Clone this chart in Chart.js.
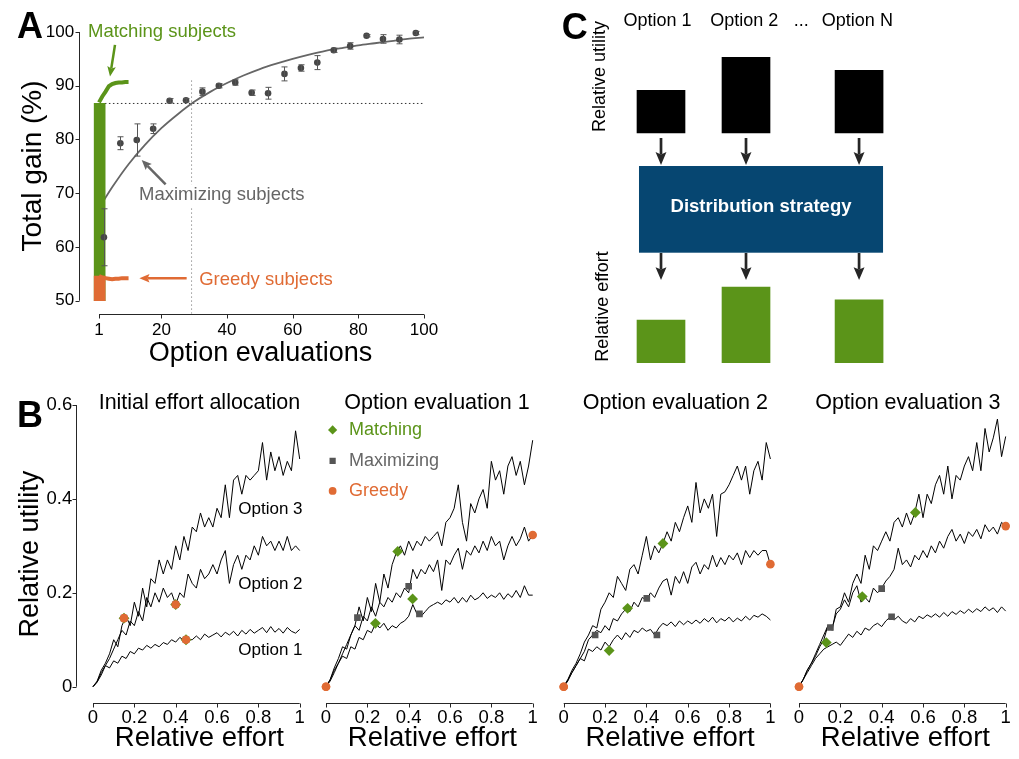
<!DOCTYPE html>
<html>
<head>
<meta charset="utf-8">
<title>Effort allocation strategies</title>
<script src="https://cdn.jsdelivr.net/npm/chart.js@4.4.1/dist/chart.umd.min.js"></script>
<style>
  html, body { margin: 0; padding: 0; background: #fff; overflow: hidden; }
  body { position: relative; width: 1019px; height: 759px; }
  .panel { position: absolute; }
  .panel canvas { display: block; }
</style>
</head>
<body>
<div class="panel" style="left:0;top:0;width:460px;height:375px"><canvas id="gainChart"></canvas></div>
<div class="panel" style="left:560px;top:0;width:459px;height:375px"><canvas id="schemeChart"></canvas></div>
<div class="panel" style="left:0;top:385px;width:330px;height:374px"><canvas id="initChart"></canvas></div>
<div class="panel" style="left:300px;top:385px;width:260px;height:374px"><canvas id="eval1Chart"></canvas></div>
<div class="panel" style="left:540px;top:385px;width:260px;height:374px"><canvas id="eval2Chart"></canvas></div>
<div class="panel" style="left:775px;top:385px;width:260px;height:374px"><canvas id="eval3Chart"></canvas></div>
<script>
// ---------- Panel A: total gain vs option evaluations ----------
const evalTicks = [1, 20, 40, 60, 80, 100];
const gainTicks = [50, 60, 70, 80, 90, 100];
const evalBins = [2.5, 7.5, 12.5, 17.5, 22.5, 27.5, 32.5, 37.5, 42.5, 47.5,
                  52.5, 57.5, 62.5, 67.5, 72.5, 77.5, 82.5, 87.5, 92.5, 97.5];
const maxGain = [61.8, 79.3, 79.9, 82.0, 87.2, 87.3, 88.9, 90.0, 90.6, 88.7,
                 88.6, 92.2, 93.3, 94.3, 96.6, 97.4, 99.3, 98.7, 98.6, 99.8];
const maxGainErr = [5.3, 1.2, 3.0, 0.9, 0.4, 0.3, 0.7, 0.4, 0.5, 0.5,
                    1.1, 1.3, 0.6, 1.3, 0.4, 0.6, 0.2, 0.8, 0.8, 0.3];
const fitEvals = [1.3, 5, 10, 15, 20, 25, 30, 35, 40, 45, 50, 55, 60, 65, 70, 75, 80, 85, 90, 95, 100];
const fitGain = [67.5, 71.1, 75.4, 79.0, 82.1, 84.7, 87.0, 88.9, 90.5, 91.9, 93.1,
                 94.1, 95.0, 95.8, 96.5, 97.0, 97.5, 97.9, 98.3, 98.7, 99.0];
const earlyEvals = [1, 2, 3, 4, 5, 6, 7, 8, 9, 10];
const matchGain = [86.9, 88.0, 88.9, 89.9, 90.3, 90.5, 90.6, 90.6, 90.7, 90.7];
const greedyGain = [54.6, 54.3, 54.2, 54.1, 54.0, 54.1, 54.1, 54.2, 54.2, 54.2];
const gainFloor = 50;
const initialEval = 1.2;
const matchInitial = 86.7;
const greedyInitial = 54.6;
const crossEval = 29.2;
const crossTop = 91.0;

// ---------- Panel B: utility curves ----------
const effortTicks = [0, 0.2, 0.4, 0.6, 0.8, 1];
const utilityTicks = [0, 0.2, 0.4, 0.6];
const effortX = [0, 0.02, 0.04, 0.06, 0.08, 0.1, 0.12, 0.14, 0.16, 0.18,
                 0.2, 0.22, 0.24, 0.26, 0.28, 0.3, 0.32, 0.34, 0.36, 0.38,
                 0.4, 0.42, 0.44, 0.46, 0.48, 0.5, 0.52, 0.54, 0.56, 0.58,
                 0.6, 0.62, 0.64, 0.66, 0.68, 0.7, 0.72, 0.74, 0.76, 0.78,
                 0.8, 0.82, 0.84, 0.86, 0.88, 0.9, 0.92, 0.94, 0.96, 0.98,
                 1];

const initOpt1 = [0, 0.01, 0.03, 0.045, 0.04, 0.055, 0.05, 0.065, 0.06, 0.075,
                  0.07, 0.082, 0.078, 0.088, 0.082, 0.09, 0.085, 0.094, 0.09, 0.10,
                  0.095, 0.105, 0.098, 0.10, 0.10, 0.108, 0.10, 0.112, 0.105, 0.11,
                  0.115, 0.106, 0.116, 0.11, 0.118, 0.108, 0.12, 0.112, 0.122, 0.114,
                  0.12, 0.126, 0.115, 0.128, 0.116, 0.124, 0.114, 0.126, 0.118, 0.114,
                  0.122];
const initOpt2 = [0, 0.01, 0.025, 0.045, 0.06, 0.08, 0.10, 0.12, 0.11, 0.14,
                  0.13, 0.16, 0.14, 0.19, 0.17, 0.20, 0.18, 0.21, 0.19, 0.20,
                  0.175, 0.20, 0.19, 0.24, 0.22, 0.21, 0.25, 0.23, 0.24, 0.26,
                  0.24, 0.27, 0.29, 0.22, 0.26, 0.28, 0.25, 0.28, 0.27, 0.30,
                  0.28, 0.32, 0.30, 0.31, 0.29, 0.31, 0.29, 0.32, 0.29, 0.30,
                  0.29];
const initOpt3 = [0, 0.012, 0.035, 0.05, 0.07, 0.10, 0.085, 0.13, 0.15, 0.13,
                  0.18, 0.15, 0.21, 0.17, 0.23, 0.22, 0.27, 0.24, 0.27, 0.25,
                  0.30, 0.27, 0.32, 0.29, 0.34, 0.33, 0.37, 0.34, 0.36, 0.34,
                  0.38, 0.36, 0.43, 0.36, 0.44, 0.45, 0.41, 0.45, 0.44, 0.45,
                  0.46, 0.52, 0.44, 0.50, 0.46, 0.49, 0.45, 0.48, 0.46, 0.545,
                  0.485];

const eval1Opt1 = [0, 0.015, 0.035, 0.05, 0.065, 0.06, 0.085, 0.08, 0.105, 0.10,
                   0.12, 0.115, 0.135, 0.125, 0.135, 0.12, 0.13, 0.125, 0.135, 0.14,
                   0.15, 0.175, 0.155, 0.15, 0.16, 0.17, 0.175, 0.18, 0.175, 0.185,
                   0.18, 0.19, 0.178, 0.19, 0.18, 0.195, 0.185, 0.19, 0.20, 0.188,
                   0.195, 0.19, 0.20, 0.186, 0.198, 0.19, 0.205, 0.19, 0.215, 0.195,
                   0.195];
const eval1Opt2 = [0, 0.012, 0.03, 0.05, 0.07, 0.09, 0.11, 0.13, 0.12, 0.15,
                   0.14, 0.17, 0.15, 0.18, 0.17, 0.19, 0.18, 0.20, 0.19, 0.21,
                   0.20, 0.25, 0.23, 0.25, 0.24, 0.26, 0.245, 0.27, 0.205, 0.27,
                   0.26, 0.28, 0.295, 0.25, 0.29, 0.28, 0.30, 0.285, 0.31, 0.29,
                   0.32, 0.30, 0.31, 0.27, 0.30, 0.32, 0.30, 0.315, 0.34, 0.31,
                   0.323];
const eval1Opt3 = [0, 0.015, 0.04, 0.06, 0.085, 0.08, 0.11, 0.13, 0.17, 0.14,
                   0.19, 0.16, 0.22, 0.18, 0.24, 0.21, 0.26, 0.285, 0.30, 0.28,
                   0.31, 0.29, 0.31, 0.30, 0.32, 0.31, 0.32, 0.33, 0.30, 0.35,
                   0.36, 0.38, 0.43, 0.35, 0.31, 0.39, 0.37, 0.40, 0.42, 0.38,
                   0.48, 0.44, 0.46, 0.41, 0.47, 0.49, 0.45, 0.48, 0.43, 0.47,
                   0.525];

const eval2Opt1 = [0, 0.015, 0.03, 0.045, 0.06, 0.055, 0.08, 0.075, 0.085, 0.078,
                   0.095, 0.085, 0.10, 0.11, 0.10, 0.115, 0.105, 0.12, 0.115, 0.125,
                   0.118, 0.122, 0.11, 0.125, 0.135, 0.13, 0.138, 0.128, 0.14, 0.132,
                   0.14, 0.134, 0.142, 0.135, 0.145, 0.138, 0.148, 0.136, 0.145, 0.14,
                   0.148, 0.138, 0.146, 0.14, 0.15, 0.142, 0.152, 0.148, 0.155, 0.15,
                   0.142];
const eval2Opt2 = [0, 0.012, 0.03, 0.045, 0.06, 0.075, 0.10, 0.11, 0.12, 0.115,
                   0.13, 0.12, 0.145, 0.14, 0.155, 0.165, 0.16, 0.18, 0.17, 0.19,
                   0.185, 0.20, 0.19, 0.21, 0.225, 0.23, 0.195, 0.235, 0.22, 0.245,
                   0.22, 0.255, 0.265, 0.24, 0.26, 0.25, 0.28, 0.255, 0.275, 0.26,
                   0.28, 0.27, 0.285, 0.26, 0.29, 0.275, 0.29, 0.28, 0.29, 0.29,
                   0.26];
const eval2Opt3 = [0, 0.015, 0.035, 0.05, 0.07, 0.095, 0.11, 0.13, 0.125, 0.165,
                   0.18, 0.20, 0.19, 0.235, 0.22, 0.205, 0.25, 0.26, 0.24, 0.28,
                   0.32, 0.27, 0.30, 0.285, 0.305, 0.33, 0.31, 0.35, 0.33, 0.36,
                   0.385, 0.35, 0.435, 0.37, 0.40, 0.38, 0.41, 0.32, 0.41, 0.415,
                   0.43, 0.45, 0.47, 0.44, 0.47, 0.41, 0.46, 0.48, 0.44, 0.52,
                   0.485];

const eval3Opt1 = [0, 0.015, 0.03, 0.045, 0.06, 0.07, 0.08, 0.085, 0.09, 0.095,
                   0.088, 0.10, 0.112, 0.105, 0.118, 0.11, 0.125, 0.12, 0.13, 0.135,
                   0.128, 0.14, 0.148, 0.142, 0.15, 0.14, 0.135, 0.145, 0.138, 0.15,
                   0.145, 0.153, 0.148, 0.155, 0.148, 0.158, 0.15, 0.16, 0.154, 0.162,
                   0.156, 0.165, 0.158, 0.166, 0.16, 0.17, 0.162, 0.168, 0.158, 0.17,
                   0.161];
const eval3Opt2 = [0, 0.015, 0.035, 0.05, 0.07, 0.09, 0.11, 0.13, 0.125, 0.155,
                   0.165, 0.185, 0.17, 0.20, 0.215, 0.18, 0.19, 0.18, 0.21, 0.20,
                   0.21, 0.225, 0.235, 0.25, 0.295, 0.26, 0.27, 0.255, 0.28, 0.27,
                   0.29, 0.275, 0.30, 0.285, 0.31, 0.295, 0.32, 0.335, 0.31, 0.325,
                   0.305, 0.33, 0.32, 0.335, 0.315, 0.345, 0.33, 0.34, 0.325, 0.35,
                   0.342];
const eval3Opt3 = [0, 0.015, 0.035, 0.05, 0.065, 0.085, 0.10, 0.13, 0.12, 0.165,
                   0.17, 0.20, 0.18, 0.22, 0.24, 0.22, 0.28, 0.25, 0.30, 0.29,
                   0.31, 0.33, 0.31, 0.35, 0.36, 0.34, 0.37, 0.345, 0.37, 0.41,
                   0.36, 0.41, 0.39, 0.43, 0.45, 0.41, 0.47, 0.40, 0.45, 0.44,
                   0.47, 0.49, 0.46, 0.52, 0.46, 0.55, 0.50, 0.53, 0.57, 0.49,
                   0.533];

// allocations chosen by each strategy: [effort, utility]
const initMatching = [[0.15, 0.146], [0.40, 0.175], [0.45, 0.10]];
const initMaximizing = [[0.15, 0.146], [0.40, 0.175], [0.45, 0.10]];
const initGreedy = [[0.15, 0.146], [0.40, 0.175], [0.45, 0.10]];
const eval1Matching = [[0.239, 0.135], [0.347, 0.288], [0.419, 0.187]];
const eval1Maximizing = [[0.152, 0.147], [0.40, 0.214], [0.452, 0.155]];
const eval1Greedy = [[0, 0], [0, 0], [1, 0.323]];
const eval2Matching = [[0.22, 0.077], [0.309, 0.167], [0.48, 0.305]];
const eval2Maximizing = [[0.152, 0.11], [0.402, 0.188], [0.451, 0.11]];
const eval2Greedy = [[0, 0], [0, 0], [1, 0.261]];
const eval3Matching = [[0.132, 0.094], [0.306, 0.192], [0.563, 0.371]];
const eval3Maximizing = [[0.152, 0.126], [0.40, 0.209], [0.448, 0.149]];
const eval3Greedy = [[0, 0], [0, 0], [1, 0.342]];

// ---------- Panel C: scheme ----------
const optionLabels = ["Option 1", "Option 2", "...", "Option N"];
const optionLabelPos = [0.96, 1.98, 2.65, 3.31];
const optionPos = [1, 2, 3.33];
const utilityHeights = [1, 1.77, 1.47];
const effortHeights = [1, 1.77, 1.47];

// ---------- styling ----------
const FONT = "'Liberation Sans', Arial, Helvetica, sans-serif";
const green = "#5b9419";
const orange = "#e06b34";
const axisColor = "#262626";

Chart.defaults.font.family = FONT;
Chart.defaults.color = "#000";
Chart.defaults.animation = false;
Chart.defaults.plugins.legend.display = false;
Chart.defaults.plugins.tooltip.enabled = false;

const pairs = (xs, ys) => xs.map((x, i) => ({ x, y: ys[i] }));
const toPoints = arr => arr.map(([x, y]) => ({ x, y }));

// detached axes: line only spans first..last tick, ticks point outwards
const offsetAxes = {
  id: "offsetAxes",
  afterDraw(chart) {
    const { ctx, chartArea } = chart;
    const xs = chart.scales.x, ys = chart.scales.y;
    ctx.save();
    ctx.strokeStyle = axisColor;
    ctx.lineWidth = 1;
    ctx.beginPath();
    if (xs && xs.options.display) {
      const vals = xs.ticks.map(t => t.value);
      const y = Math.round(chartArea.bottom) + 0.5;
      ctx.moveTo(xs.getPixelForValue(vals[0]), y);
      ctx.lineTo(xs.getPixelForValue(vals[vals.length - 1]), y);
      vals.forEach(v => {
        const x = Math.round(xs.getPixelForValue(v)) + 0.5;
        ctx.moveTo(x, y);
        ctx.lineTo(x, y + 4);
      });
    }
    if (ys && ys.options.display) {
      const vals = ys.ticks.map(t => t.value);
      const x = Math.round(chartArea.left) - 0.5;
      ctx.moveTo(x, ys.getPixelForValue(vals[0]));
      ctx.lineTo(x, ys.getPixelForValue(vals[vals.length - 1]));
      vals.forEach(v => {
        const y = Math.round(ys.getPixelForValue(v)) + 0.5;
        ctx.moveTo(x, y);
        ctx.lineTo(x - 4, y);
      });
    }
    ctx.stroke();
    ctx.restore();
  }
};

const errorBars = {
  id: "errorBars",
  afterDatasetsDraw(chart) {
    const { ctx } = chart;
    const xs = chart.scales.x, ys = chart.scales.y;
    chart.data.datasets.forEach(ds => {
      if (!ds.errorBars) return;
      ctx.save();
      ctx.strokeStyle = "#555";
      ctx.lineWidth = 1;
      ctx.beginPath();
      ds.data.forEach((p, i) => {
        const e = ds.errorBars[i];
        const x = Math.round(xs.getPixelForValue(p.x)) + 0.5;
        const top = ys.getPixelForValue(p.y + e);
        const bot = ys.getPixelForValue(p.y - e);
        ctx.moveTo(x, top); ctx.lineTo(x, bot);
        ctx.moveTo(x - 3, top); ctx.lineTo(x + 3, top);
        ctx.moveTo(x - 3, bot); ctx.lineTo(x + 3, bot);
      });
      ctx.stroke();
      ctx.restore();
    });
  }
};

function drawArrow(ctx, x0, y0, x1, y1, color, width, head) {
  const ang = Math.atan2(y1 - y0, x1 - x0);
  const nx = x1 - Math.cos(ang) * head * 0.75, ny = y1 - Math.sin(ang) * head * 0.75;
  ctx.strokeStyle = color;
  ctx.fillStyle = color;
  ctx.lineWidth = width;
  ctx.beginPath();
  ctx.moveTo(x0, y0);
  ctx.lineTo(nx, ny);
  ctx.stroke();
  ctx.beginPath();
  ctx.moveTo(x1, y1);
  ctx.lineTo(x1 - Math.cos(ang - 0.4) * head, y1 - Math.sin(ang - 0.4) * head);
  ctx.lineTo(nx, ny);
  ctx.lineTo(x1 - Math.cos(ang + 0.4) * head, y1 - Math.sin(ang + 0.4) * head);
  ctx.closePath();
  ctx.fill();
}

function drawMark(ctx, style, x, y, r, color) {
  ctx.fillStyle = color;
  ctx.beginPath();
  if (style === "rectRot") {
    ctx.moveTo(x, y - r); ctx.lineTo(x + r, y); ctx.lineTo(x, y + r); ctx.lineTo(x - r, y);
  } else if (style === "rect") {
    const s = r * Math.SQRT1_2;
    ctx.rect(x - s, y - s, 2 * s, 2 * s);
  } else {
    ctx.arc(x, y, r, 0, Math.PI * 2);
  }
  ctx.closePath();
  ctx.fill();
}

// annotations placed in data units (or canvas pixels when px is set)
function notes(spec) {
  return {
    id: "notes",
    afterDatasetsDraw(chart) {
      const { ctx } = chart;
      const xs = chart.scales[spec.xAxis || "x"];
      const ys = chart.scales[spec.yAxis || "y"];
      const pos = (p, px) => px ? p : [xs.getPixelForValue(p[0]), ys.getPixelForValue(p[1])];
      ctx.save();
      (spec.boxes || []).forEach(b => {
        const [x0, y0] = pos(b.from, b.px);
        const [x1, y1] = pos(b.to, b.px);
        ctx.fillStyle = b.color;
        ctx.fillRect(Math.min(x0, x1), Math.min(y0, y1), Math.abs(x1 - x0), Math.abs(y1 - y0));
      });
      (spec.texts || []).forEach(t => {
        const [x, y] = pos(t.at, t.px);
        ctx.save();
        ctx.translate(x, y);
        if (t.rotate) ctx.rotate(t.rotate);
        ctx.font = (t.bold ? "bold " : "") + t.size + "px " + FONT;
        ctx.textAlign = t.align || "left";
        ctx.textBaseline = t.baseline || "middle";
        if (t.bg) {
          const w = ctx.measureText(t.text).width;
          const left = t.align === "center" ? -w / 2 : 0;
          ctx.fillStyle = t.bg;
          ctx.fillRect(left - 2, -t.size * 0.6, w + 4, t.size * 1.2);
        }
        ctx.fillStyle = t.color || "#000";
        ctx.fillText(t.text, 0, 0);
        ctx.restore();
      });
      (spec.arrows || []).forEach(a => {
        const [x0, y0] = pos(a.from, a.px);
        const [x1, y1] = pos(a.to, a.px);
        drawArrow(ctx, x0, y0, x1, y1, a.color, a.width || 2.5, a.head || 11);
      });
      (spec.marks || []).forEach(m => {
        const [x, y] = pos(m.at, m.px);
        drawMark(ctx, m.style, x, y, m.r, m.color);
      });
      ctx.restore();
    }
  };
}

const hiddenGrid = { display: false, drawTicks: false };
const noBorder = { display: false };

// ---------- Panel A ----------
new Chart(document.getElementById("gainChart"), {
  type: "scatter",
  data: {
    datasets: [
      { type: "line", label: "Matching subjects", data: pairs(earlyEvals, matchGain), borderColor: green, borderWidth: 4, pointRadius: 0 },
      { type: "line", label: "Greedy subjects", data: pairs(earlyEvals, greedyGain), borderColor: orange, borderWidth: 4, pointRadius: 0 },
      { label: "Maximizing subjects", data: pairs(evalBins, maxGain), errorBars: maxGainErr,
        backgroundColor: "#474747", pointRadius: 3.3, pointBorderWidth: 0 },
      { type: "bar", label: "Greedy (initial)", data: [{ x: initialEval, y: [gainFloor, greedyInitial] }],
        backgroundColor: orange, barThickness: 11, grouped: false },
      { type: "bar", label: "Matching (initial)", data: [{ x: initialEval, y: [gainFloor, matchInitial] }],
        backgroundColor: green, barThickness: 11, grouped: false },
      { type: "line", label: "Maximizing fit", data: pairs(fitEvals, fitGain), borderColor: "#666",
        borderWidth: 1.8, pointRadius: 0, cubicInterpolationMode: "monotone" },
      { type: "line", label: "Matching level", data: [{ x: 2.8, y: matchInitial }, { x: 100, y: matchInitial }],
        borderColor: "#333", borderWidth: 1, borderDash: [1.5, 2.5], pointRadius: 0 },
      { type: "line", label: "Crossing", data: [{ x: crossEval, y: crossTop }, { x: crossEval, y: 47.6 }],
        borderColor: "#999", borderWidth: 1, borderDash: [1.5, 2.5], pointRadius: 0 }
    ]
  },
  options: {
    responsive: true,
    maintainAspectRatio: false,
    events: [],
    layout: { padding: { left: 0, top: 18, right: 18.7, bottom: 0 } },
    scales: {
      x: {
        type: "linear", offset: false, min: -4.88, max: 105.27,
        grid: hiddenGrid, border: noBorder,
        afterBuildTicks: s => { s.ticks = evalTicks.map(v => ({ value: v })); },
        afterFit: s => { s.height = 61; },
        ticks: { autoSkip: false, maxRotation: 0, padding: 6.5, font: { size: 17 }, callback: v => String(v) },
        title: { display: true, text: "Option evaluations", font: { size: 27 }, padding: { top: 0, bottom: 4.8 } }
      },
      y: {
        type: "linear", min: 47.525, max: 102.6,
        grid: hiddenGrid, border: noBorder,
        afterBuildTicks: s => { s.ticks = gainTicks.map(v => ({ value: v })); },
        afterFit: s => { s.width = 79.7; },
        ticks: { padding: 5.5, font: { size: 17 }, callback: v => String(v) },
        title: { display: true, text: "Total gain (%)", font: { size: 28 }, padding: { top: 16.3, bottom: 0 } }
      }
    }
  },
  plugins: [offsetAxes, errorBars, notes({
    texts: [
      { text: "A", at: [17, 38], px: true, size: 36, bold: true, baseline: "alphabetic" },
      { text: "Matching subjects", at: [-2.35, 100], size: 18.5, color: green },
      { text: "Maximizing subjects", at: [13.2, 69.6], size: 18.5, color: "#666", bg: "#fff" },
      { text: "Greedy subjects", at: [31.5, 53.93], size: 18.5, color: orange }
    ],
    arrows: [
      { from: [5.87, 97.6], to: [4.35, 91.7], color: green },
      { from: [21.3, 71.66], to: [14.0, 76.2], color: "#666" },
      { from: [27.7, 54.17], to: [13.3, 54.17], color: orange }
    ]
  })]
});

// ---------- Panel C ----------
new Chart(document.getElementById("schemeChart"), {
  type: "bar",
  data: {
    datasets: [
      { label: "Relative utility", data: optionPos.map((x, i) => ({ x, y: [0, utilityHeights[i]] })),
        yAxisID: "yU", backgroundColor: "#000", barThickness: 48, grouped: false },
      { label: "Relative effort", data: optionPos.map((x, i) => ({ x, y: [0, effortHeights[i]] })),
        yAxisID: "yE", backgroundColor: green, barThickness: 48, grouped: false }
    ]
  },
  options: {
    responsive: true,
    maintainAspectRatio: false,
    events: [],
    layout: { padding: { left: 60, top: 0, right: 19, bottom: 0 } },
    scales: {
      x: {
        type: "linear", position: "top", offset: false, min: 0.5176, max: 4.988,
        grid: hiddenGrid, border: noBorder,
        afterBuildTicks: s => { s.ticks = optionLabelPos.map(v => ({ value: v })); },
        afterFit: s => { s.height = 35; },
        ticks: { autoSkip: false, maxRotation: 0, padding: 2.7, font: { size: 18 }, callback: (v, i) => optionLabels[i] }
      },
      yU: { type: "linear", display: false, min: -5.667, max: 2.295 },
      yE: { type: "linear", display: false, min: -0.288, max: 7.674 }
    }
  },
  plugins: [notes({
    yAxis: "yU",
    boxes: [{ from: [0.741, -0.773], to: [3.612, -2.803], color: "#064671" }],
    texts: [
      { text: "C", at: [1.7, 39], px: true, size: 36, bold: true, baseline: "alphabetic" },
      { text: "Distribution strategy", at: [2.1765, -1.731], size: 18.5, bold: true, color: "#fff", align: "center" },
      { text: "Relative utility", at: [40.5, 76.5], px: true, size: 18, align: "center", rotate: -Math.PI / 2 },
      { text: "Relative effort", at: [43, 306.5], px: true, size: 18, align: "center", rotate: -Math.PI / 2 }
    ],
    arrows: optionPos.flatMap(x => [
      { from: [x, -0.117], to: [x, -0.749], color: axisColor, width: 2.7, head: 14 },
      { from: [x, -2.81], to: [x, -3.443], color: axisColor, width: 2.7, head: 14 }
    ])
  })]
});

// ---------- Panel B ----------
function effortChart(id, spec) {
  const lineSets = spec.lines.map((vals, i) => ({
    type: "line", label: "Option " + (i + 1), data: pairs(effortX, vals),
    borderColor: "#000", borderWidth: 1, pointRadius: 0
  }));
  return new Chart(document.getElementById(id), {
    type: "scatter",
    data: {
      datasets: [
        { label: "Greedy", data: toPoints(spec.greedy), pointStyle: "circle", pointRadius: 4.3,
          backgroundColor: orange, pointBorderWidth: 0 },
        { label: "Maximizing", data: toPoints(spec.maximizing), pointStyle: "rect", pointRadius: 4.7,
          backgroundColor: "#555", pointBorderWidth: 0 },
        { label: "Matching", data: toPoints(spec.matching), pointStyle: "rectRot", pointRadius: 5.4,
          backgroundColor: green, pointBorderWidth: 0 },
        ...lineSets
      ]
    },
    options: {
      responsive: true,
      maintainAspectRatio: false,
      events: [],
      layout: { padding: spec.padding },
      scales: {
        x: {
          type: "linear", offset: false, min: -0.076, max: 1.105,
          grid: hiddenGrid, border: noBorder,
          afterBuildTicks: s => { s.ticks = effortTicks.map(v => ({ value: v })); },
          afterFit: s => { s.height = 55.7; },
          ticks: { autoSkip: false, maxRotation: 0, padding: 3.6, font: { size: 18.5 }, callback: v => String(v) },
          title: { display: true, text: "Relative effort", font: { size: 27.5 }, padding: { top: 0, bottom: 3.7 } }
        },
        y: {
          type: "linear", display: spec.showY, min: -0.0354, max: 0.6,
          grid: hiddenGrid, border: noBorder,
          afterBuildTicks: s => { s.ticks = utilityTicks.map(v => ({ value: v })); },
          afterFit: s => { if (spec.showY) s.width = 77.3; },
          ticks: { padding: 5, font: { size: 18.5 }, callback: v => String(v) },
          title: { display: true, text: "Relative utility", font: { size: 27 }, padding: { top: 14.4, bottom: 0 } }
        }
      }
    },
    plugins: [offsetAxes, notes(spec.notes)]
  });
}

effortChart("initChart", {
  showY: true,
  padding: { left: 0, top: 20, right: 8.6, bottom: 0 },
  lines: [initOpt1, initOpt2, initOpt3],
  matching: initMatching, maximizing: initMaximizing, greedy: initGreedy,
  notes: {
    texts: [
      { text: "B", at: [17, 42], px: true, size: 36, bold: true, baseline: "alphabetic" },
      { text: "Initial effort allocation", at: [0.515, 0.605], size: 21.5, align: "center" },
      { text: "Option 3", at: [0.703, 0.378], size: 17 },
      { text: "Option 2", at: [0.703, 0.218], size: 17 },
      { text: "Option 1", at: [0.703, 0.078], size: 17 }
    ]
  }
});

effortChart("eval1Chart", {
  showY: false,
  padding: { left: 10.3, top: 20, right: 5.6, bottom: 0 },
  lines: [eval1Opt1, eval1Opt2, eval1Opt3],
  matching: eval1Matching, maximizing: eval1Maximizing, greedy: eval1Greedy,
  notes: {
    texts: [
      { text: "Option evaluation 1", at: [0.537, 0.605], size: 21.5, align: "center" },
      { text: "Matching", at: [0.111, 0.547], size: 18, color: green },
      { text: "Maximizing", at: [0.111, 0.481], size: 18, color: "#666" },
      { text: "Greedy", at: [0.111, 0.417], size: 18, color: orange }
    ],
    marks: [
      { style: "rectRot", at: [0.032, 0.547], r: 4.6, color: green },
      { style: "rect", at: [0.032, 0.481], r: 4.4, color: "#555" },
      { style: "circle", at: [0.032, 0.417], r: 3.9, color: orange }
    ]
  }
});

effortChart("eval2Chart", {
  showY: false,
  padding: { left: 8, top: 20, right: 7.9, bottom: 0 },
  lines: [eval2Opt1, eval2Opt2, eval2Opt3],
  matching: eval2Matching, maximizing: eval2Maximizing, greedy: eval2Greedy,
  notes: { texts: [{ text: "Option evaluation 2", at: [0.54, 0.605], size: 21.5, align: "center" }] }
});

effortChart("eval3Chart", {
  showY: false,
  padding: { left: 8.3, top: 20, right: 7.6, bottom: 0 },
  lines: [eval3Opt1, eval3Opt2, eval3Opt3],
  matching: eval3Matching, maximizing: eval3Maximizing, greedy: eval3Greedy,
  notes: { texts: [{ text: "Option evaluation 3", at: [0.527, 0.605], size: 21.5, align: "center" }] }
});
</script>
</body>
</html>
